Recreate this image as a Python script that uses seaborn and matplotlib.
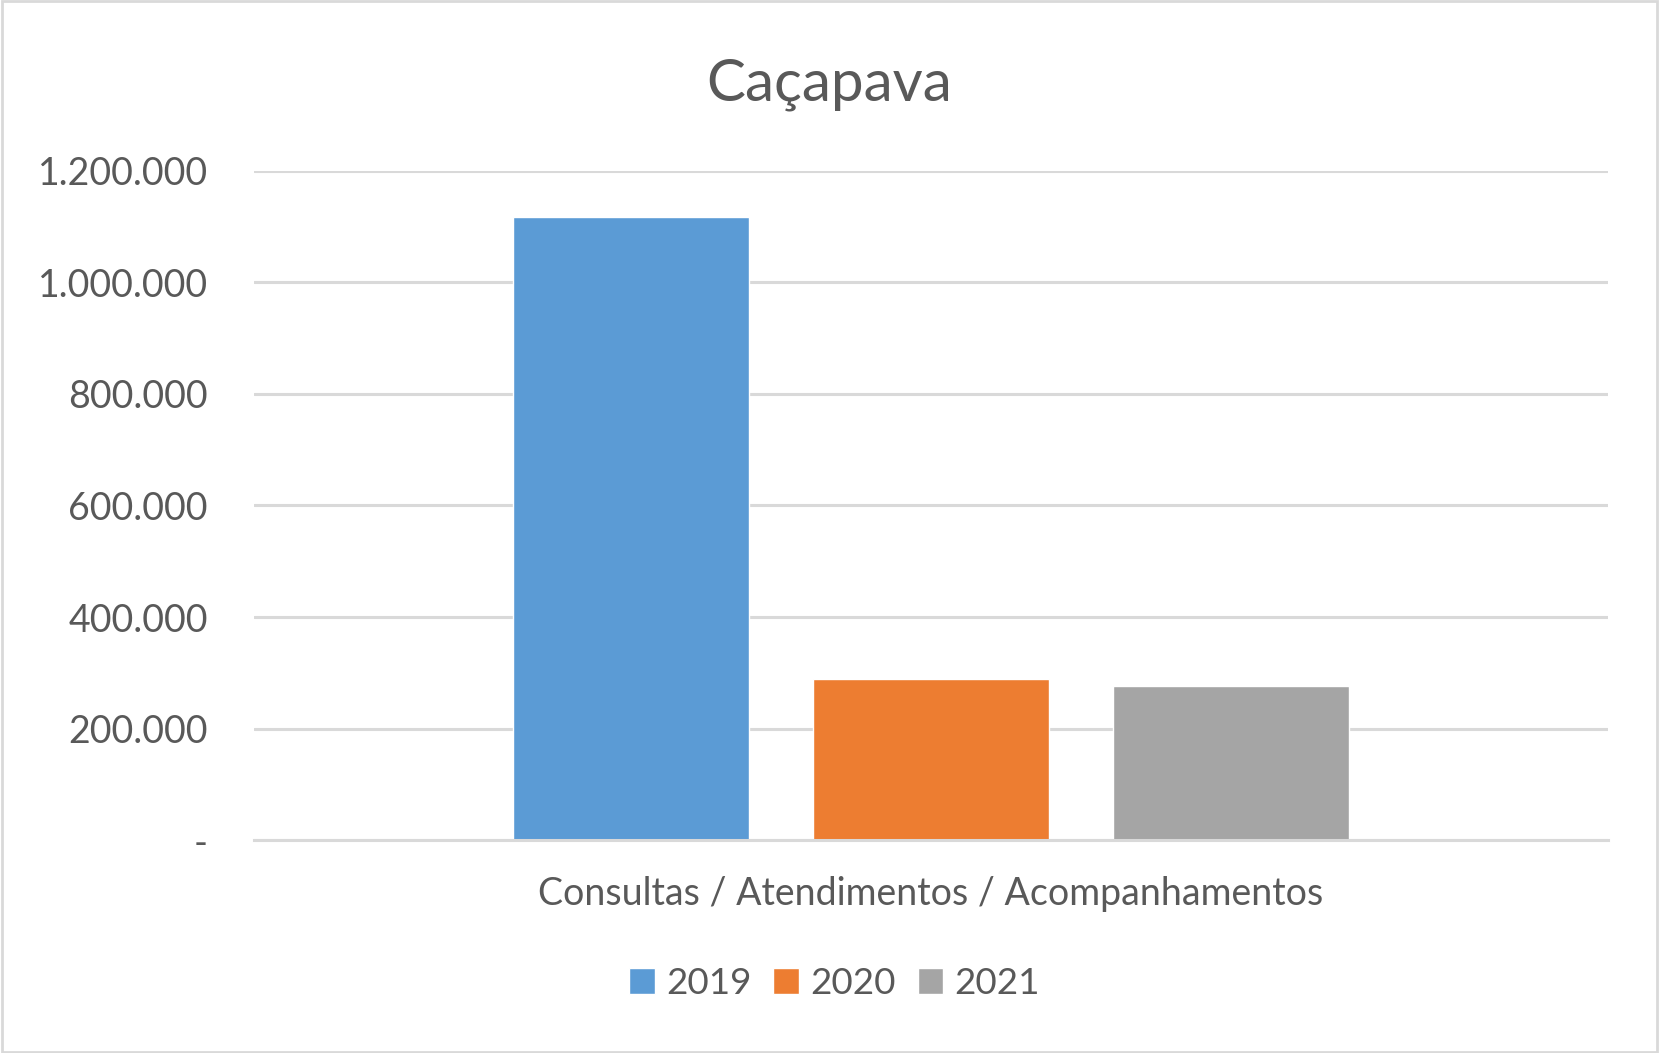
import numpy as np
import matplotlib
matplotlib.use('Agg')
import matplotlib.pyplot as plt
import pandas as pd
import seaborn as sns
from matplotlib.ticker import FuncFormatter

# dados
categoria = ['Consultas / Atendimentos / Acompanhamentos']
anos = ['2019', '2020', '2021']
valores = [1116000, 289300, 276800]
cores = ['#5B9BD5', '#ED7D31', '#A5A5A5']

df = pd.DataFrame({'cat': categoria * len(anos), 'ano': anos, 'valor': valores})

sns.set_style('white')
plt.rcParams['font.family'] = ['Lato', 'DejaVu Sans']
texto = '#595959'

fig = plt.figure(figsize=(16.59, 10.53), dpi=100)
ax = fig.add_axes([0.153, 0.202, 0.816, 0.636])

sns.barplot(data=df, x='cat', y='valor', hue='ano', palette=cores,
            width=0.665, gap=0.213, ax=ax, saturation=1, legend=True)

ax.set_ylim(0, 1200000)
ax.set_yticks(np.arange(0, 1200001, 200000))

def fmt(v, pos):
    if v == 0:
        return '-'
    return f'{int(v):,}'.replace(',', '.')

ax.yaxis.set_major_formatter(FuncFormatter(fmt))
ax.yaxis.grid(True, color='#D9D9D9', linewidth=2.2)
ax.set_axisbelow(True)
for s in ['top', 'right', 'left']:
    ax.spines[s].set_visible(False)
ax.spines['bottom'].set_color('#D9D9D9')
ax.spines['bottom'].set_linewidth(2.2)
ax.tick_params(axis='y', length=0, labelsize=27, labelcolor=texto, pad=33)
ax.tick_params(axis='x', length=0, labelsize=27, labelcolor=texto, pad=26)
ax.set_xlabel('')
ax.set_ylabel('')

fig.text(0.5, 0.92, 'Caçapava', fontsize=42, color=texto, ha='center', va='center')

h, l = ax.get_legend_handles_labels()
ax.get_legend().remove()
fig.legend(h, l, loc='center', bbox_to_anchor=(0.503, 0.066), ncol=3, frameon=False,
           fontsize=26.5, labelcolor=texto, handlelength=0.7, handleheight=0.7,
           handletextpad=0.3, columnspacing=0.6)

# borda
fig.patches.append(plt.Rectangle((0.001, 0.001), 0.998, 0.998, transform=fig.transFigure,
                                 fill=False, edgecolor='#D9D9D9', linewidth=2))

fig.savefig('out.png', dpi=100)
